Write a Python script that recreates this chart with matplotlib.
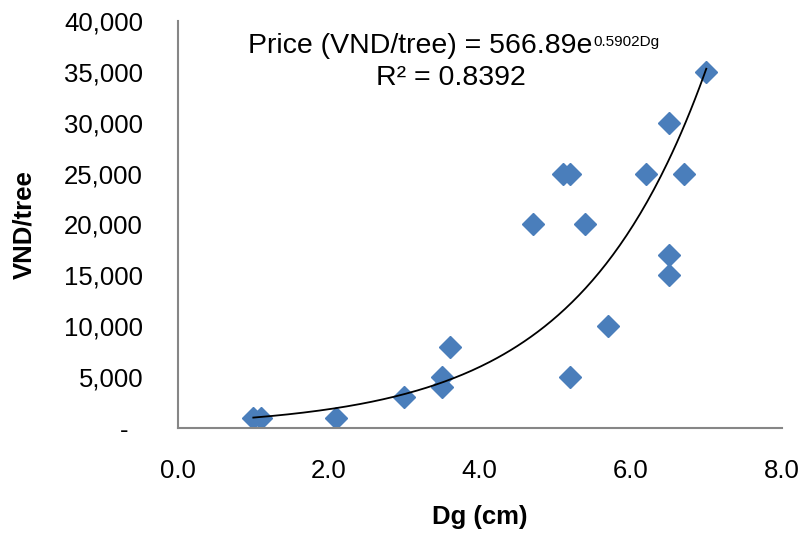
import matplotlib

matplotlib.use("Agg")
import matplotlib.pyplot as plt
import numpy as np
from matplotlib.ticker import FuncFormatter

plt.rcParams["font.family"] = ["Liberation Sans", "DejaVu Sans"]

# Dg (cm) vs price (VND/tree)
dg = [1.0, 1.1, 2.1, 3.0, 3.5, 3.5, 3.6, 4.7, 5.1, 5.2, 5.2, 5.4,
      5.7, 6.2, 6.5, 6.5, 6.5, 6.7, 7.0]
price = [1000, 1000, 1000, 3000, 5000, 4000, 8000, 20000, 25000, 25000, 5000, 20000,
         10000, 25000, 30000, 17000, 15000, 25000, 35000]

# exponential trendline shown on the chart
fit_a = 566.89
fit_b = 0.5902
r2 = 0.8392

FS = 18.5
EQ_FS = 20.5

fig = plt.figure(figsize=(8.01, 5.35), dpi=100)
ax = fig.add_axes([0.222, 0.2, 0.754, 0.761])

ax.plot(dg, price, ls="none", marker="D", ms=11, color="#4A7EBB", mec="#4A7EBB")

xs = np.linspace(min(dg), max(dg), 200)
ax.plot(xs, fit_a * np.exp(fit_b * xs), color="black", lw=1.3)

ax.set_xlim(0, 8)
ax.set_ylim(0, 40000)
ax.set_xticks(np.arange(0, 8.1, 2))
ax.set_yticks(np.arange(0, 40001, 5000))
ax.xaxis.set_major_formatter(FuncFormatter(lambda v, p: f"{v:.1f}"))
# accounting-style zero shown as a dash, set in from the right edge
ax.yaxis.set_major_formatter(FuncFormatter(lambda v, p: "-  " if v == 0 else f"{v:,.0f}"))
ax.tick_params(axis="both", length=0, labelsize=FS)
ax.tick_params(axis="y", pad=25)
ax.tick_params(axis="x", pad=22)

for s in ("top", "right"):
    ax.spines[s].set_visible(False)
for s in ("left", "bottom"):
    ax.spines[s].set_color("#868686")
    ax.spines[s].set_linewidth(1.5)

ax.set_xlabel("Dg (cm)", fontsize=FS, fontweight="bold", labelpad=16)
ax.set_ylabel("VND/tree", fontsize=FS, fontweight="bold", labelpad=20)

# trendline equation: base text plus a small superscript
eq = ax.text(0.117, 0.921, f"Price (VND/tree) = {fit_a}e",
             transform=ax.transAxes, ha="left", va="baseline", fontsize=EQ_FS)
ax.annotate(f"{fit_b}Dg", xy=(1, 1), xycoords=eq, xytext=(0.5, -1.5),
            textcoords="offset points", ha="left", va="top", fontsize=11)
ax.text(0.452, 0.86, f"R² = {r2}", transform=ax.transAxes,
        ha="center", va="center", fontsize=EQ_FS)

fig.savefig("out.png", dpi=100)
